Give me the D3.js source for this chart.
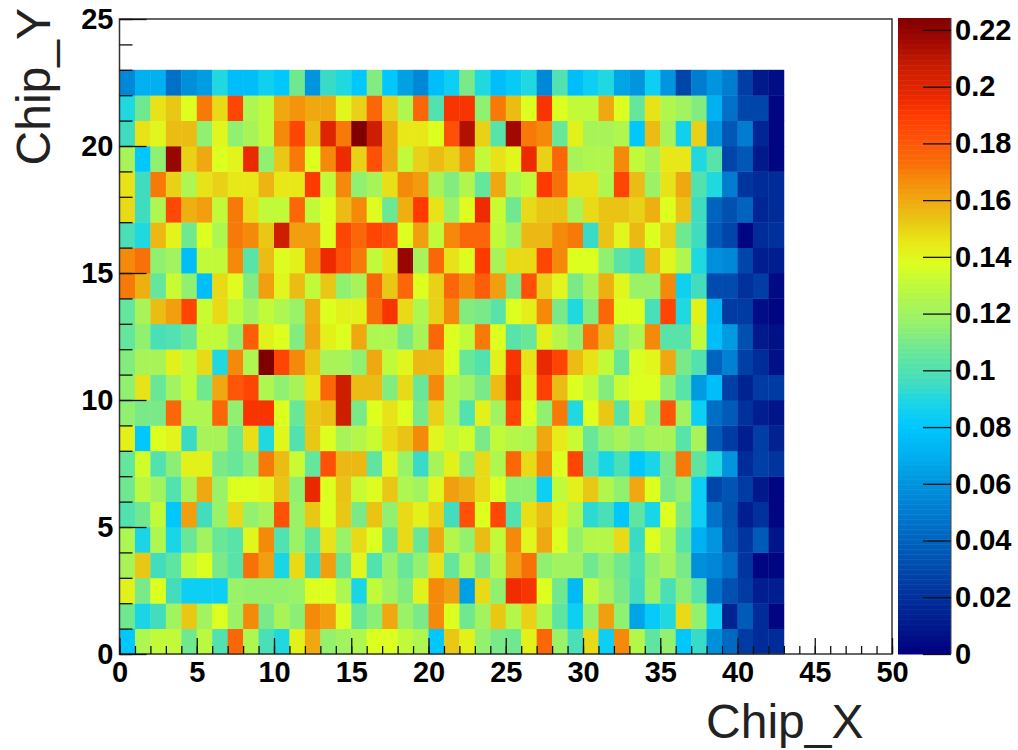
<!DOCTYPE html>
<meta charset="utf-8">
<script src="https://d3js.org/d3.v7.min.js"></script>
<style>
  body { margin: 0; background: #fff; }
  text { font-family: "Liberation Sans", Arial, sans-serif; }
</style>
<body>
<div id="chart"></div>
<script>
// occupancy per chip column, one list per Chip_Y row
const row22 = [.055,.07,.07,.045,.058,.063,.09,.076,.076,.085,.08,.108,.06,.094,.09,.08,.112,.08,.064,.055,.076,.084,.11,.09,.076,.082,.09,.055,.1,.076,.084,.09,.066,.06,.084,.06,.028,.05,.06,.05,.025,.01,.005];
const row21 = [.09,.108,.146,.152,.137,.17,.148,.186,.124,.13,.16,.165,.16,.16,.14,.15,.175,.15,.124,.175,.1,.192,.192,.115,.17,.155,.137,.192,.137,.13,.13,.16,.137,.105,.146,.125,.12,.112,.07,.045,.028,.028,.002];
const row20 = [.095,.146,.14,.155,.155,.115,.14,.115,.122,.13,.167,.186,.155,.2,.17,.224,.205,.16,.145,.145,.137,.182,.212,.15,.102,.216,.17,.167,.106,.142,.122,.122,.125,.08,.155,.122,.085,.15,.06,.035,.05,.015,.002];
const row19 = [.122,.08,.115,.218,.15,.16,.137,.141,.196,.115,.152,.17,.137,.167,.195,.15,.182,.16,.13,.15,.155,.15,.165,.13,.146,.14,.195,.15,.175,.122,.125,.125,.167,.13,.122,.145,.145,.09,.102,.028,.035,.01,.002];
const row18 = [.146,.095,.17,.15,.124,.146,.15,.145,.145,.157,.145,.145,.19,.13,.167,.115,.122,.147,.167,.163,.122,.112,.125,.105,.16,.124,.13,.19,.172,.146,.146,.124,.186,.155,.118,.146,.16,.1,.09,.05,.022,.018,.018];
const row17 = [.148,.095,.124,.185,.158,.162,.13,.17,.147,.13,.13,.175,.13,.137,.155,.167,.138,.107,.158,.19,.146,.118,.138,.195,.132,.108,.148,.153,.153,.122,.148,.153,.153,.15,.158,.137,.153,.095,.04,.032,.04,.015,.018];
const row16 = [.098,.09,.156,.141,.108,.137,.124,.17,.167,.152,.205,.162,.162,.137,.186,.175,.186,.182,.137,.162,.13,.167,.175,.175,.13,.12,.156,.156,.167,.17,.094,.153,.14,.156,.137,.15,.108,.095,.036,.028,.002,.018,.02];
const row15 = [.167,.172,.115,.12,.076,.13,.13,.167,.102,.155,.138,.142,.167,.195,.182,.17,.13,.146,.218,.122,.175,.146,.138,.19,.122,.148,.148,.186,.167,.137,.137,.115,.102,.096,.155,.14,.125,.09,.058,.055,.028,.012,.012];
const row14 = [.17,.158,.105,.132,.115,.076,.148,.138,.112,.162,.14,.155,.13,.152,.115,.122,.175,.152,.175,.137,.15,.175,.167,.178,.162,.11,.182,.15,.14,.11,.122,.158,.14,.118,.118,.167,.085,.096,.03,.03,.02,.025,.004];
const row13 = [.105,.122,.155,.162,.186,.132,.148,.13,.12,.13,.124,.118,.158,.137,.142,.142,.172,.192,.148,.124,.15,.167,.112,.11,.102,.137,.143,.167,.11,.09,.112,.175,.137,.137,.098,.186,.09,.142,.072,.024,.024,.005,.002];
const row12 = [.105,.115,.098,.1,.106,.13,.13,.115,.178,.142,.137,.112,.16,.142,.137,.16,.124,.124,.11,.122,.175,.137,.13,.17,.137,.102,.106,.142,.126,.116,.172,.155,.115,.124,.167,.102,.102,.13,.076,.062,.032,.01,.006];
const row11 = [.112,.122,.122,.142,.13,.148,.09,.167,.124,.224,.186,.167,.152,.122,.122,.115,.16,.13,.14,.156,.156,.137,.106,.1,.142,.192,.146,.196,.186,.155,.146,.13,.106,.136,.14,.16,.11,.1,.04,.052,.026,.018,.006];
const row10 = [.115,.146,.106,.12,.13,.108,.16,.18,.186,.124,.115,.122,.146,.175,.205,.155,.155,.112,.148,.106,.167,.124,.12,.11,.155,.196,.142,.188,.155,.137,.13,.112,.132,.137,.137,.115,.102,.062,.076,.026,.014,.024,.024];
const row9 = [.115,.11,.11,.175,.124,.124,.175,.115,.192,.192,.137,.106,.152,.155,.205,.11,.137,.146,.137,.11,.15,.124,.1,.142,.12,.186,.137,.115,.17,.09,.137,.152,.102,.143,.115,.18,.12,.084,.044,.036,.02,.012,.008];
const row8 = [.142,.08,.137,.141,.094,.122,.122,.108,.147,.09,.14,.1,.152,.137,.122,.126,.132,.148,.153,.167,.14,.13,.134,.11,.13,.126,.124,.16,.144,.132,.106,.116,.122,.115,.122,.122,.102,.122,.036,.024,.012,.025,.014];
const row7 = [.105,.134,.1,.114,.142,.142,.11,.106,.114,.17,.155,.132,.105,.182,.156,.156,.104,.141,.118,.094,.122,.142,.115,.148,.124,.175,.148,.167,.137,.186,.102,.088,.098,.08,.088,.11,.17,.104,.09,.06,.018,.026,.022];
const row6 = [.108,.128,.12,.1,.122,.16,.118,.137,.137,.14,.153,.115,.196,.137,.153,.132,.138,.152,.124,.12,.14,.162,.158,.148,.137,.115,.115,.084,.13,.142,.152,.125,.115,.16,.137,.11,.116,.084,.028,.034,.024,.01,.002];
const row5 = [.1,.108,.13,.08,.162,.096,.118,.148,.116,.122,.182,.118,.152,.137,.152,.11,.153,.115,.148,.142,.15,.096,.182,.137,.185,.1,.147,.155,.142,.124,.092,.098,.08,.104,.088,.137,.11,.084,.046,.032,.012,.02,.002];
const row4 = [.124,.088,.124,.088,.106,.12,.106,.102,.14,.167,.1,.118,.104,.146,.118,.148,.137,.106,.148,.106,.16,.126,.116,.155,.13,.167,.14,.16,.137,.116,.126,.126,.148,.094,.137,.124,.102,.07,.06,.034,.022,.036,.008];
const row3 = [.122,.152,.096,.104,.13,.137,.11,.102,.172,.162,.088,.148,.094,.162,.106,.14,.1,.118,.106,.116,.146,.105,.126,.11,.126,.162,.172,.115,.12,.12,.108,.116,.108,.098,.115,.122,.11,.058,.054,.044,.022,.002,.002];
const row2 = [.142,.11,.137,.096,.084,.084,.084,.118,.116,.116,.116,.118,.137,.137,.124,.088,.13,.12,.112,.142,.167,.162,.064,.148,.115,.194,.192,.137,.108,.074,.13,.12,.11,.096,.118,.098,.114,.102,.046,.032,.024,.012,.012];
const row1 = [.108,.088,.096,.12,.152,.12,.137,.118,.167,.11,.122,.114,.167,.162,.137,.106,.114,.16,.118,.11,.167,.137,.108,.12,.152,.126,.15,.124,.104,.084,.116,.162,.115,.066,.082,.09,.148,.116,.084,.014,.036,.018,.002];
const row0 = [.08,.124,.13,.13,.108,.128,.1,.175,.124,.098,.09,.142,.16,.116,.12,.124,.137,.137,.13,.124,.08,.152,.142,.116,.11,.108,.142,.175,.118,.098,.148,.084,.167,.126,.104,.116,.08,.094,.058,.042,.024,.018,.018];

const zRows = [row0,row1,row2,row3,row4,row5,row6,row7,row8,row9,row10,row11,row12,row13,row14,row15,row16,row17,row18,row19,row20,row21,row22];
const zTicks = [0,.02,.04,.06,.08,.1,.12,.14,.16,.18,.2,.22];
const zMax = 0.2242;

// palette stops, estimated from the colour bar
const palValues = [0,.01,.02,.032,.045,.055,.062,.07,.08,.09,.095,.102,.108,.115,.122,.13,.137,.145,.152,.16,.167,.172,.182,.19,.195,.207,.216,.224];
const palColors = ["#000080","#001a8c","#00309c","#0050b0","#0070c8","#0088d8","#009ae0","#00b0f0","#00c8ff","#20d8e0","#40dcc0","#58e4a8","#70e890","#90f070","#a8f458","#c0fa38","#dcff20","#e8e818","#e8c815","#f0a810","#f58a0a","#f87008","#ff5008","#ff3a00","#ee2a00","#c81c00","#a00800","#800000"];

var width = 1018, height = 750;
var plot = {left: 119.5, right: 892, top: 19, bottom: 654};
var bar = {left: 898, right: 951, top: 18, bottom: 654};

var color = d3.scaleLinear().domain(palValues).range(palColors).clamp(true);

var x = d3.scaleLinear().domain([0, 50]).range([plot.left, plot.right]);
var y = d3.scaleLinear().domain([0, 25]).range([plot.bottom, plot.top]);
var z = d3.scaleLinear().domain([0, zMax]).range([bar.bottom, bar.top]);

var svg = d3.select("#chart").append("svg")
    .attr("width", width)
    .attr("height", height)
    .style("display", "block");

// cells
svg.append("g").selectAll("g")
  .data(zRows)
  .enter().append("g")
  .each(function(row, j) {
    d3.select(this).selectAll("rect")
      .data(row)
      .enter().append("rect")
        .attr("x", (d, i) => x(i))
        .attr("y", y(j + 1))
        .attr("width", (d, i) => x(i + 1) - x(i) + 0.4)
        .attr("height", y(j) - y(j + 1) + 0.4)
        .style("fill", d => color(d));
  });

// colour bar
var barSteps = d3.range(0, zMax, zMax / 255);
svg.append("g").selectAll("rect")
  .data(barSteps)
  .enter().append("rect")
    .attr("x", bar.left)
    .attr("y", d => z(d + zMax / 255))
    .attr("width", bar.right - bar.left)
    .attr("height", (bar.bottom - bar.top) / 255 + 0.5)
    .style("fill", d => color(d));

// frame
svg.append("rect")
    .attr("x", plot.left)
    .attr("y", plot.top)
    .attr("width", plot.right - plot.left)
    .attr("height", plot.bottom - plot.top)
    .style("fill", "none")
    .style("stroke", "#333")
    .style("stroke-width", 1.5);

svg.append("line")
    .attr("x1", bar.right).attr("x2", bar.right)
    .attr("y1", bar.top).attr("y2", bar.bottom)
    .style("stroke", "#444")
    .style("stroke-width", 1);

function styleAxis(g, size) {
  g.select(".domain").remove();
  g.selectAll("line").style("stroke", "#111").style("stroke-width", 1.3);
  g.selectAll("text")
    .style("font-family", '"Liberation Sans", Arial, sans-serif')
    .style("font-size", size + "px")
    .style("font-weight", "bold")
    .style("fill", "#000");
}

// x axis, minor then major ticks
svg.append("g")
    .attr("transform", "translate(0," + plot.bottom + ")")
    .call(d3.axisBottom(x).ticks(50).tickSizeInner(-8).tickSizeOuter(0).tickFormat(""))
    .call(styleAxis, 29);
svg.append("g")
    .attr("transform", "translate(0," + plot.bottom + ")")
    .call(d3.axisBottom(x).tickValues(d3.range(0, 51, 5)).tickSizeInner(-16).tickSizeOuter(0).tickPadding(7).tickFormat(d3.format("d")))
    .call(styleAxis, 29);

// y axis, minor then major ticks
svg.append("g")
    .attr("transform", "translate(" + plot.left + ",0)")
    .call(d3.axisLeft(y).ticks(25).tickSizeInner(-13).tickSizeOuter(0).tickFormat(""))
    .call(styleAxis, 29);
svg.append("g")
    .attr("transform", "translate(" + plot.left + ",0)")
    .call(d3.axisLeft(y).tickValues(d3.range(0, 26, 5)).tickSizeInner(-27).tickSizeOuter(0).tickPadding(6).tickFormat(d3.format("d")))
    .call(styleAxis, 29);

// colour bar axis
svg.append("g")
    .attr("transform", "translate(" + bar.right + ",0)")
    .call(d3.axisRight(z).tickValues(zTicks).tickSizeInner(-28).tickSizeOuter(0).tickPadding(4).tickFormat(d3.format("~g")))
    .call(styleAxis, 29);

// titles
svg.append("text")
    .attr("x", 863.5)
    .attr("y", 738)
    .attr("text-anchor", "end")
    .style("font-size", "48px")
    .style("fill", "#222")
    .text("Chip_X");

svg.append("text")
    .attr("transform", "translate(50,8) rotate(-90)")
    .attr("text-anchor", "end")
    .style("font-size", "48px")
    .style("fill", "#222")
    .text("Chip_Y");
</script>
</body>
